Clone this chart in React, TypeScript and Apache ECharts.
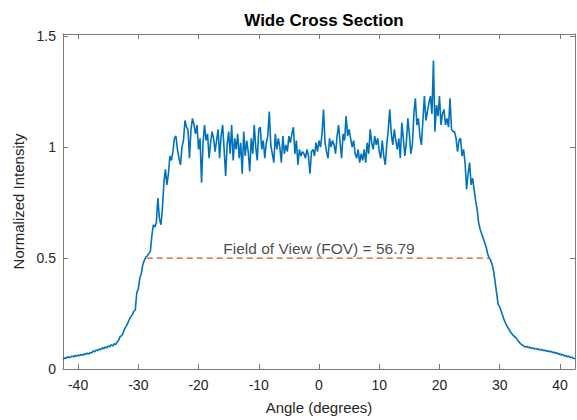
import React, { useEffect, useRef } from "react";
import * as echarts from "echarts";

// Angle grid (degrees)
const angleStart = -42.5;
const angleStep = 0.25;

// Normalized intensity, one row per 5 degrees
const intensity: number[] = [
  // -42.5 .. -37.75
  0.044, 0.05, 0.047, 0.055, 0.051, 0.054, 0.058, 0.055, 0.061, 0.057, 0.063, 0.06, 0.066, 0.061, 0.068, 0.066, 0.071, 0.068, 0.074, 0.072,
  // -37.5 .. -32.75
  0.081, 0.078, 0.086, 0.083, 0.09, 0.087, 0.096, 0.091, 0.099, 0.095, 0.104, 0.1, 0.109, 0.104, 0.114, 0.11, 0.122, 0.131, 0.147, 0.15,
  // -32.5 .. -27.75
  0.165, 0.182, 0.193, 0.207, 0.223, 0.235, 0.244, 0.26, 0.266, 0.345, 0.36, 0.41, 0.43, 0.47, 0.49, 0.505, 0.51, 0.52, 0.53, 0.6,
  // -27.5 .. -22.75
  0.65, 0.64, 0.66, 0.77, 0.68, 0.65, 0.72, 0.84, 0.9, 0.83, 0.88, 0.96, 0.94, 0.98, 1.04, 1.05, 0.99, 0.95, 0.92, 1.0,
  // -22.5 .. -17.75
  1.03, 1.12, 1.09, 1.08, 0.95, 1.08, 1.13, 1.1, 1.06, 1.1, 0.99, 1.04, 0.84, 1.02, 1.1, 1.03, 1.06, 0.95, 1.02, 1.07,
  // -17.5 .. -12.75
  1.04, 0.98, 1.03, 1.08, 0.95, 1.05, 1.1, 0.99, 0.87, 1.01, 1.07, 0.97, 1.1, 0.94, 1.04, 0.99, 1.06, 0.95, 1.02, 0.88,
  // -12.5 .. -7.75
  1.07, 0.96, 1.03, 0.98, 0.89, 1.04, 0.97, 1.1, 1.0, 0.94, 1.08, 1.09, 0.99, 1.03, 0.95, 1.02, 1.05, 1.16, 1.01, 0.97,
  // -7.5 .. -2.75
  0.93, 1.06, 0.99, 1.04, 1.0, 0.93, 1.05, 0.97, 1.01, 0.98, 1.05, 1.02, 1.06, 1.09, 0.97, 1.03, 0.92, 0.99, 0.96, 0.98,
  // -2.5 .. 2.25
  0.97, 0.95, 0.99, 0.96, 0.88, 0.98, 0.99, 0.96, 1.02, 0.98, 1.03, 1.0, 1.06, 1.17, 1.02, 0.98, 0.95, 1.04, 1.0, 1.03,
  // 2.5 .. 7.25
  1.01, 0.97, 1.05, 1.1, 1.02, 0.95, 1.06, 1.03, 1.14, 1.05, 1.08, 1.04, 1.0, 1.03, 0.97, 0.95, 0.99, 0.93, 0.97, 0.94,
  // 7.5 .. 12.25
  0.99, 0.93, 1.02, 0.97, 1.08, 1.02, 0.99, 1.05, 1.01, 1.04, 0.98, 0.95, 1.03, 0.96, 0.92, 1.01, 1.08, 1.17, 1.06, 1.01,
  // 12.5 .. 17.25
  1.08, 1.03, 0.99, 1.04, 0.95, 1.11, 1.04, 0.96, 1.02, 1.13, 1.06, 0.97, 1.01, 1.15, 1.22, 1.1, 1.13, 1.05, 1.01, 1.12,
  // 17.5 .. 22.25
  1.23, 1.12, 1.16, 1.2, 1.23, 1.15, 1.39, 1.07, 1.19, 1.14, 1.23, 1.1, 1.15, 1.17, 1.1, 1.13, 1.09, 1.22, 1.08, 1.07,
  // 22.5 .. 27.25
  1.07, 1.04, 0.98, 1.03, 1.04, 0.96, 0.99, 0.93, 0.81, 0.88, 0.93, 0.83, 0.86, 0.81, 0.76, 0.72, 0.66, 0.63, 0.61, 0.59,
  // 27.5 .. 32.25
  0.57, 0.55, 0.52, 0.5, 0.49, 0.47, 0.44, 0.39, 0.34, 0.29, 0.28, 0.26, 0.24, 0.22, 0.205, 0.19, 0.181, 0.168, 0.16, 0.151,
  // 32.5 .. 37.25
  0.146, 0.138, 0.129, 0.121, 0.113, 0.108, 0.104, 0.099, 0.102, 0.096, 0.099, 0.093, 0.095, 0.09, 0.093, 0.088, 0.09, 0.085, 0.088, 0.083,
  // 37.5 .. 42.5
  0.085, 0.08, 0.082, 0.078, 0.08, 0.074, 0.076, 0.071, 0.073, 0.067, 0.068, 0.063, 0.065, 0.059, 0.061, 0.055, 0.057, 0.051, 0.053, 0.048, 0.047,
];

// Field of view marker
const fovAngles = [-28.6, 28.2];
const fovLevel = 0.5;
const fovLabel = "Field of View (FOV) = 56.79";
const fovLabelPos = [0, 0.545];

// Axes
const xMin = -42.5;
const xMax = 42.5;
const yMin = 0;
const yMax = 1.51;
const yInterval = 0.5;

const FONT = "'Liberation Sans', Arial, Helvetica, sans-serif";
const TEXT = "#262626";
const AXIS = "#7a7a7a";

export default function App() {
  const ref = useRef<HTMLDivElement>(null);

  useEffect(() => {
    if (!ref.current) return;
    const chart = echarts.init(ref.current, undefined, { renderer: "svg" });

    const lineData = intensity.map((v, i) => [angleStart + i * angleStep, v]);
    const fovData = fovAngles.map((a) => [a, fovLevel]);

    const yFmt = (v: number) =>
      Math.abs(v / yInterval - Math.round(v / yInterval)) < 1e-6 ? String(v) : "";

    chart.setOption({
      animation: false,
      textStyle: { fontFamily: FONT },
      title: {
        text: "Wide Cross Section",
        left: 319,
        textAlign: "center",
        top: 7,
        textStyle: { fontFamily: FONT, fontSize: 17, fontWeight: "bold", color: "#000" },
      },
      grid: { left: 63, right: 2, top: 34, bottom: 48, containLabel: false },
      xAxis: [
        {
          type: "value",
          min: xMin,
          max: xMax,
          splitNumber: 9,
          name: "Angle (degrees)",
          nameLocation: "middle",
          nameGap: 31,
          nameTextStyle: { fontFamily: FONT, fontSize: 15, color: TEXT },
          axisLine: { show: true, onZero: false, lineStyle: { color: AXIS, width: 1 } },
          axisTick: { show: true, inside: true, length: 5, lineStyle: { color: AXIS } },
          axisLabel: {
            showMinLabel: false,
            showMaxLabel: false,
            fontFamily: FONT,
            fontSize: 14,
            color: TEXT,
            margin: 9,
          },
          splitLine: { show: false },
        },
        {
          type: "value",
          position: "top",
          min: xMin,
          max: xMax,
          splitNumber: 9,
          axisLine: { show: true, onZero: false, lineStyle: { color: AXIS, width: 1 } },
          axisTick: { show: true, inside: true, length: 5, lineStyle: { color: AXIS } },
          axisLabel: { show: false },
          splitLine: { show: false },
        },
      ],
      yAxis: [
        {
          type: "value",
          min: yMin,
          max: yMax,
          interval: yInterval,
          name: "Normalized Intensity",
          nameLocation: "middle",
          nameGap: 34,
          nameTextStyle: { fontFamily: FONT, fontSize: 15, color: TEXT },
          axisLine: { show: true, onZero: false, lineStyle: { color: AXIS, width: 1 } },
          axisTick: { show: true, inside: true, length: 5, lineStyle: { color: AXIS } },
          axisLabel: { fontFamily: FONT, fontSize: 14, color: TEXT, margin: 7, formatter: yFmt },
          splitLine: { show: false },
        },
        {
          type: "value",
          position: "right",
          min: yMin,
          max: yMax,
          interval: yInterval,
          axisLine: { show: true, onZero: false, lineStyle: { color: AXIS, width: 1 } },
          axisTick: { show: true, inside: true, length: 5, lineStyle: { color: AXIS } },
          axisLabel: { show: false },
          splitLine: { show: false },
        },
      ],
      series: [
        {
          type: "line",
          data: lineData,
          showSymbol: false,
          symbol: "none",
          lineStyle: { color: "#0072BD", width: 1.6 },
          z: 3,
        },
        {
          type: "line",
          data: fovData,
          symbol: "none",
          lineStyle: { color: "#D95319", width: 1.3, type: [6, 4] },
          z: 4,
        },
        {
          type: "scatter",
          data: [fovLabelPos],
          symbolSize: 0,
          label: {
            show: true,
            position: "inside",
            formatter: fovLabel,
            fontFamily: FONT,
            fontSize: 15.5,
            color: "#1a1a1a",
          },
          z: 5,
        },
      ],
    });

    return () => chart.dispose();
  }, []);

  return (
    <div
      ref={ref}
      style={{ position: "fixed", left: 0, top: 0, width: 577, height: 420, background: "#fff" }}
    />
  );
}
